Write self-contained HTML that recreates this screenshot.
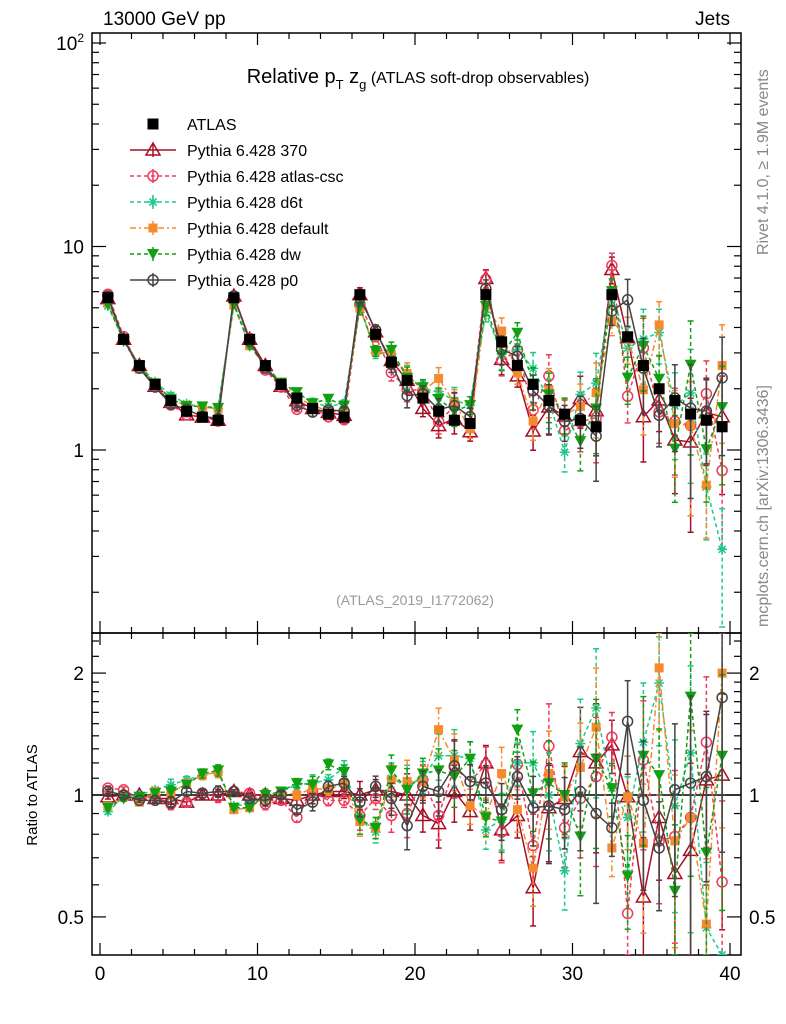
<!DOCTYPE html>
<html><head><meta charset="utf-8"><style>
html,body{margin:0;padding:0;background:#fff;width:786px;height:1024px;overflow:hidden;}
svg{display:block;font-family:"Liberation Sans",sans-serif;}
</style></head><body>
<svg id="c" width="786" height="1024" xmlns="http://www.w3.org/2000/svg"></svg>
<script>
const bins=[];for(let i=0;i<40;i++)bins.push(i+0.5);
const atlasVals=[5.6,3.5,2.6,2.1,1.75,1.55,1.45,1.4, 5.6,3.5,2.6,2.1,1.8,1.6,1.5,1.45, 5.8,3.7,2.7,2.2,1.8,1.55,1.4,1.35, 5.8,3.4,2.6,2.1,1.75,1.5,1.4,1.3, 5.8,3.6,2.6,2.0,1.75,1.5,1.4,1.3];
const relErr=[.01,.01,.01,.01,.02,.02,.02,.02, .01,.01,.02,.02,.02,.03,.03,.03, .05,.06,.07,.08,.09,.1,.1,.1, .08,.1,.12,.15,.17,.2,.22,.25, .15,.2,.25,.3,.35,.4,.45,.45];
const r370=[0.99,1.0,1.0,0.98,0.98,0.96,1.0,1.0,1.02,1.0,1.0,0.98,0.97,1.0,1.02,1.02,1.0,1.03,1.02,1.0, 0.89,0.85,1.02,0.91,1.2,0.82,0.89,0.59,0.93,0.98,1.28,1.2,1.33,0.99,0.56,0.88,0.64,0.73,1.09,1.12];
const rCsc=[1.04,1.03,0.98,0.99,0.95,0.96,1.01,0.99,1.02,1.01,0.95,0.97,0.88,1.02,0.97,0.97,0.89,0.98,0.89,0.9, 1.09,0.89,1.17,1.08,1.19,0.81,1.19,0.75,1.32,0.83,0.98,1.11,1.39,0.51,1.22,0.77,0.79,0.88,1.35,0.61];
const rD6t=[0.91,0.99,1.0,1.03,1.06,1.09,1.12,1.14,0.94,0.95,0.99,1.02,1.06,1.07,1.09,1.17,0.87,0.81,1.1,1.05, 1.11,1.25,1.25,1.23,0.82,0.87,1.2,1.2,1.0,0.65,1.34,1.64,1.04,0.88,1.35,1.89,0.94,1.27,0.47,0.25];
const rDef=[0.94,0.99,0.96,1.02,1.01,1.07,1.12,1.14,0.92,0.93,0.99,1.02,1.0,1.04,1.03,1.07,0.86,0.83,1.09,1.08, 1.08,1.45,1.22,0.94,0.89,1.13,0.92,0.66,1.13,0.99,1.17,1.47,0.74,0.99,0.76,2.06,0.77,0.88,0.48,2.0];
const rDw=[0.93,0.98,0.99,1.01,1.02,1.06,1.13,1.15,0.93,0.93,1.0,1.02,1.07,1.06,1.19,1.14,0.87,0.83,1.15,1.03, 1.13,1.15,1.11,1.23,0.88,0.86,1.45,1.01,1.07,1.0,0.79,1.23,1.04,0.63,1.25,1.12,0.58,1.75,0.72,1.25];
const rP0=[1.02,1.0,0.97,0.97,0.96,1.02,1.01,1.02,1.02,0.98,0.97,1.0,0.92,0.96,1.05,1.07,0.96,1.05,0.98,0.84, 1.05,1.02,1.18,1.08,1.07,0.92,1.11,0.93,0.94,0.92,1.02,0.9,0.83,1.52,0.97,0.74,1.03,1.07,1.11,1.74];
const xTicks=[0,10,20,30,40];
const ratioTicks=[0.5,1,2];

const NS="http://www.w3.org/2000/svg";
const svg=document.getElementById('c');
function el(t,a,p){const e=document.createElementNS(NS,t);for(const k in a)e.setAttribute(k,a[k]);(p||svg).appendChild(e);return e;}
const L=92,R=741,T=33,M=633,B=955;
const X=v=>100+15.75*v;
const clamp=(y,a,b)=>Math.max(a,Math.min(b,y));
const Y=v=>clamp(450-203.5*Math.log10(v),T,M);
const YR=v=>clamp(795-405*Math.log10(v),M,B);

const defs=el('defs',{});
const c1=el('clipPath',{id:'cm'},defs);el('rect',{x:L,y:T,width:R-L,height:M-T},c1);
const c2=el('clipPath',{id:'cr'},defs);el('rect',{x:L,y:M,width:R-L,height:B-M},c2);

let f=el('rect',{x:L,y:T,width:R-L,height:M-T,fill:'none',stroke:'#000','stroke-width':1.5});

f=el('rect',{x:L,y:M,width:R-L,height:B-M,fill:'none',stroke:'#000','stroke-width':1.5});


const xa=el('g',{stroke:'#000','stroke-width':1.2});

for(let v=0;v<=40;v+=2){const maj=v%10==0;const h=maj?12:6;
 el('line',{x1:X(v),x2:X(v),y1:B,y2:B-h},xa);el('line',{x1:X(v),x2:X(v),y1:M,y2:M+h},xa);
 el('line',{x1:X(v),x2:X(v),y1:M,y2:M-h},xa);el('line',{x1:X(v),x2:X(v),y1:T,y2:T+h},xa);}
xTicks.forEach(v=>{const t=el('text',{x:X(v),y:980,'font-size':19,'text-anchor':'middle'});t.textContent=v;
});
const ya=el('g',{stroke:'#000','stroke-width':1.2});

for(let d=-1;d<=2;d++)for(let k=1;k<=9;k++){const v=k*Math.pow(10,d);const yy=450-203.5*Math.log10(v);if(yy<T||yy>M)continue;const h=k==1?14:7;
 el('line',{x1:L,x2:L+h,y1:yy,y2:yy},ya);el('line',{x1:R,x2:R-h,y1:yy,y2:yy},ya);}
[[1,'1'],[10,'10']].forEach(([v,s])=>{const t=el('text',{x:84,y:Y(v)+7,'font-size':19,'text-anchor':'end'});t.textContent=s;
});
let t=el('text',{x:84,y:Y(100)+7,'font-size':19,'text-anchor':'end'});t.innerHTML='10<tspan font-size="12" dy="-8">2</tspan>';

const yr=el('g',{stroke:'#000','stroke-width':1.2});

[0.4,0.5,0.6,0.7,0.8,0.9,1,1.1,1.2,1.3,1.4,1.5,1.6,1.7,1.8,1.9,2,2.2,2.4].forEach(v=>{const yy=795-405*Math.log10(v);if(yy<M||yy>B)return;const maj=(v==0.5||v==1||v==2);const h=maj?14:7;
 el('line',{x1:L,x2:L+h,y1:yy,y2:yy},yr);el('line',{x1:R,x2:R-h,y1:yy,y2:yy},yr);});
ratioTicks.forEach(v=>{let a=el('text',{x:84,y:YR(v)+7,'font-size':19,'text-anchor':'end'});a.textContent=v;

a=el('text',{x:749,y:YR(v)+7,'font-size':19});a.textContent=v;
});
let rl=el('line',{x1:L,x2:R,y1:YR(1),y2:YR(1),stroke:'#000','stroke-width':1.5});


function txt(x,y,s,a,name){const e=el('text',Object.assign({x:x,y:y},a));e.innerHTML=s;return e;}
txt(103,25,'13000 GeV pp',{'font-size':19},'beam-label');
txt(730,25,'Jets',{'font-size':19,'text-anchor':'end'},'process-label');
txt(418,83,'Relative p<tspan font-size="13" dy="6">T</tspan><tspan dy="-6"> z</tspan><tspan font-size="13" dy="6">g</tspan><tspan font-size="16" dy="-6"> (ATLAS soft-drop observables)</tspan>',{'font-size':20,'text-anchor':'middle'},'plot-title');
txt(415,605,'(ATLAS_2019_I1772062)',{'font-size':14,fill:'#999','text-anchor':'middle'},'analysis-id');
txt(0,0,'Rivet 4.1.0, ≥ 1.9M events',{'font-size':16,fill:'#888',transform:'translate(768,255) rotate(-90)'},'rivet-label');
txt(0,0,'mcplots.cern.ch [arXiv:1306.3436]',{'font-size':16,fill:'#888',transform:'translate(768,627) rotate(-90)'},'mcplots-label');
txt(0,0,'Ratio to ATLAS',{'font-size':15,'text-anchor':'middle',transform:'translate(37,795) rotate(-90)'},'y-axis-title-ratio');

function marker(g,type,x,y,col){
 const s=5.5;
 if(type=='sq')el('rect',{x:x-s,y:y-s,width:2*s,height:2*s,fill:col},g);
 else if(type=='fsq')el('rect',{x:x-4.5,y:y-4.5,width:9,height:9,fill:col},g);
 else if(type=='tri')el('polygon',{points:`${x},${y-7} ${x-7},${y+5} ${x+7},${y+5}`,fill:'none',stroke:col,'stroke-width':1.5},g);
 else if(type=='dtri')el('polygon',{points:`${x},${y+6} ${x-6},${y-5} ${x+6},${y-5}`,fill:col},g);
 else if(type=='circ')el('circle',{cx:x,cy:y,r:5,fill:'none',stroke:col,'stroke-width':1.5},g);
 else if(type=='star'){for(let a=0;a<4;a++){const an=a*Math.PI/4;el('line',{x1:x-5*Math.cos(an),y1:y-5*Math.sin(an),x2:x+5*Math.cos(an),y2:y+5*Math.sin(an),stroke:col,'stroke-width':1.5},g);}}
}
const series=[
 {name:'Pythia 6.428 370',key:'pythia-370',r:r370,col:'#a50f25',dash:'',m:'tri'},
 {name:'Pythia 6.428 atlas-csc',key:'pythia-atlas-csc',r:rCsc,col:'#ee3b5b',dash:'4,3',m:'circ'},
 {name:'Pythia 6.428 d6t',key:'pythia-d6t',r:rD6t,col:'#1cc98a',dash:'4,3',m:'star'},
 {name:'Pythia 6.428 default',key:'pythia-default',r:rDef,col:'#f58a2e',dash:'6,3,2,3',m:'fsq'},
 {name:'Pythia 6.428 dw',key:'pythia-dw',r:rDw,col:'#11a011',dash:'4,3',m:'dtri'},
 {name:'Pythia 6.428 p0',key:'pythia-p0',r:rP0,col:'#444444',dash:'',m:'circ'}
];
function draw(s,panel){
 const g=el('g',{'clip-path':panel=='main'?'url(#cm)':'url(#cr)'});
 
 const vals=bins.map((b,i)=>panel=='main'?atlasVals[i]*s.r[i]:s.r[i]);
 const yf=panel=='main'?Y:YR;
 const err=relErr.map((e,i)=>e*(1+0.3*((i*7+s.r.length)%3)));
 vals.forEach((v,i)=>{const e=err[i]*v;const x=X(bins[i]);const y1=yf(v+e),y2=yf(Math.max(v-e,0.01));
  el('line',{x1:x,x2:x,y1:y1,y2:y2,stroke:s.col,'stroke-width':1.5,'stroke-dasharray':s.dash},g);
  el('line',{x1:x-3,x2:x+3,y1:y1,y2:y1,stroke:s.col,'stroke-width':1.5},g);
  el('line',{x1:x-3,x2:x+3,y1:y2,y2:y2,stroke:s.col,'stroke-width':1.5},g);});
 el('polyline',{points:vals.map((v,i)=>X(bins[i])+','+yf(v)).join(' '),fill:'none',stroke:s.col,'stroke-width':1.5,'stroke-dasharray':s.dash},g);
 vals.forEach((v,i)=>marker(g,s.m,X(bins[i]),yf(v),s.col));
}
series.forEach(s=>{draw(s,'main');draw(s,'ratio');});
const ag=el('g',{'clip-path':'url(#cm)'});

atlasVals.forEach((v,i)=>marker(ag,'sq',X(bins[i]),Y(v),'#000'));

const lg=el('g',{});
let le=el('g',{},lg);
marker(le,'sq',153,124,'#000');
let lt=el('text',{x:187,y:130,'font-size':16},le);lt.textContent='ATLAS';
series.forEach((s,k)=>{const y=150+26*k;const e=el('g',{},lg);
 
 el('line',{x1:130,x2:176,y1:y,y2:y,stroke:s.col,'stroke-width':1.5,'stroke-dasharray':s.dash},e);
 el('line',{x1:153,x2:153,y1:y-7,y2:y+7,stroke:s.col,'stroke-width':1.5},e);
 marker(e,s.m,153,y,s.col);
 const tt=el('text',{x:187,y:y+6,'font-size':16},e);tt.textContent=s.name;});
</script>
</body></html>
